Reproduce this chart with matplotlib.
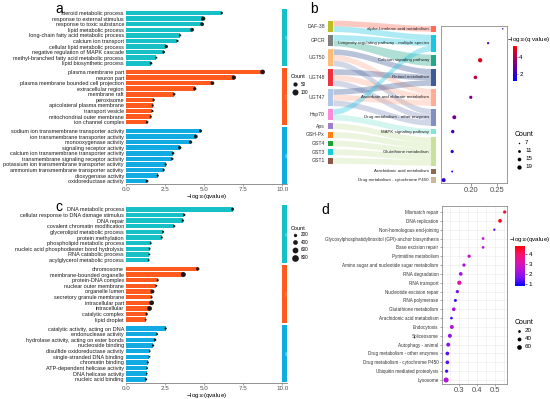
import numpy as np
import matplotlib
matplotlib.use('Agg')
import matplotlib.pyplot as plt
from matplotlib.colors import LinearSegmentedColormap, Normalize
from matplotlib.patches import Rectangle
import matplotlib.cm as cm

plt.rcParams['font.family'] = ['Liberation Sans', 'DejaVu Sans']

W, H = 550, 399

# ---------------- panel a (GO) ----------------
a_bp_terms = ['steroid metabolic process', 'response to external stimulus', 'response to toxic substance',
              'lipid metabolic process', 'long-chain fatty acid metabolic process', 'calcium ion transport',
              'cellular lipid metabolic process', 'negative regulation of MAPK cascade',
              'methyl-branched fatty acid metabolic process', 'lipid biosynthetic process']
a_bp_vals = [6.13, 4.94, 4.87, 4.23, 3.46, 3.29, 2.58, 2.41, 1.94, 1.60]
a_bp_count = [15, 51, 38, 38, 15, 15, 30, 20, 11, 20]
a_cc_terms = ['plasma membrane part', 'neuron part', 'plasma membrane bounded cell projection',
              'extracellular region', 'membrane raft', 'peroxisome', 'apicolateral plasma membrane',
              'transport vesicle', 'mitochondrial outer membrane', 'ion channel complex']
a_cc_vals = [8.74, 6.90, 5.53, 4.40, 3.08, 1.77, 1.71, 1.69, 1.58, 1.35]
a_cc_count = [61, 51, 38, 30, 20, 15, 15, 15, 15, 20]
a_mf_terms = ['sodium ion transmembrane transporter activity', 'ion transmembrane transporter activity',
              'monooxygenase activity', 'signaling receptor activity',
              'calcium ion transmembrane transporter activity', 'transmembrane signaling receptor activity',
              'potassium ion transmembrane transporter activity', 'ammonium transmembrane transporter activity',
              'dioxygenase activity', 'oxidoreductase activity']
a_mf_vals = [4.77, 4.47, 4.13, 3.44, 3.01, 2.95, 2.54, 2.41, 2.03, 1.35]
a_mf_count = [25, 38, 30, 30, 20, 20, 15, 15, 15, 20]

# ---------------- panel c (GO) ----------------
c_bp_terms = ['DNA metabolic process', 'cellular response to DNA damage stimulus', 'DNA repair',
              'covalent chromatin modification', 'glycerolipid metabolic process', 'protein methylation',
              'phospholipid metabolic process', 'nucleic acid phosphodiester bond hydrolysis',
              'RNA catabolic process', 'acylglycerol metabolic process']
c_bp_vals = [6.82, 3.72, 3.63, 3.08, 2.37, 2.29, 1.58, 1.51, 1.49, 1.45]
c_bp_count = [160, 120, 110, 100, 90, 80, 70, 70, 70, 60]
c_cc_terms = ['chromosome', 'membrane-bounded organelle', 'protein-DNA complex', 'nuclear outer membrane',
              'organelle lumen', 'secretory granule membrane', 'intracellular part', 'intracellular',
              'catalytic complex', 'lipid droplet']
c_cc_vals = [4.59, 3.67, 2.03, 1.94, 1.69, 1.64, 1.64, 1.51, 1.32, 1.26]
c_cc_count = [200, 450, 90, 80, 290, 80, 400, 400, 110, 60]
c_mf_terms = ['catalytic activity, acting on DNA', 'endonuclease activity',
              'hydrolase activity, acting on ester bonds', 'nucleoside binding',
              'disulfide oxidoreductase activity', 'single-stranded DNA binding', 'chromatin binding',
              'ATP-dependent helicase activity', 'DNA helicase activity', 'nucleic acid binding']
c_mf_vals = [2.54, 1.99, 1.86, 1.73, 1.52, 1.50, 1.40, 1.35, 1.32, 1.28]
c_mf_count = [90, 80, 120, 100, 60, 60, 80, 60, 60, 110]

go_groups = ['BP', 'CC', 'MF']
go_colors = ['#17BFC6', '#FF5B1E', '#11ABE3']

# ---------------- panel b (sankey + dots) ----------------
genes = ['DAF-38', 'GPCR', 'UGT50', 'UGT48', 'UGT47', 'Hsp70', 'Aps', 'GSH-Px', 'GST4', 'GST3', 'GST1']
gene_units = [2, 2, 3, 3, 3, 2, 1, 1, 1, 1, 1]
gene_colors = ['#BCBD22', '#7F7F7F', '#FFBB78', '#EE3340', '#AEC7E8', '#F98BD8',
               '#A07DCB', '#FF7F0E', '#21A03A', '#1BCCD6', '#8C564B']
paths = ['alpha-Linolenic acid metabolism', 'Longevity regulating pathway - multiple species',
         'Calcium signaling pathway', 'Retinol metabolism', 'Ascorbate and aldarate metabolism',
         'Drug metabolism - other enzymes', 'MAPK signaling pathway', 'Glutathione metabolism',
         'Arachidonic acid metabolism', 'Drug metabolism - cytochrome P450']
path_units = [1, 3, 2, 3, 3, 3, 1, 5, 1, 1]
path_colors = ['#FF6B55', '#1CC6E2', '#23A88C', '#3F5B98', '#FFAE95', '#8290BF',
               '#86E4D6', '#C8E29E', '#8C6A50', '#CDB79A']
links = [(0, 0), (0, 1), (1, 1), (1, 2), (2, 3), (2, 4), (2, 5), (3, 3), (3, 4), (3, 5),
         (4, 3), (4, 4), (4, 5), (5, 1), (5, 6), (6, 7), (7, 7), (8, 7), (9, 7), (10, 7)]
b_ratio = [0.260, 0.2325, 0.2175, 0.2087, 0.200, 0.169, 0.166, 0.165, 0.165, 0.149]
b_q = [2.0, 2.4, 4.9, 4.4, 3.2, 3.0, 2.2, 2.0, 1.3, 1.8]
b_count = [7, 9, 19, 15, 13, 17, 14, 13, 8, 17]

# ---------------- panel d (KEGG dots) ----------------
d_terms = ['Mismatch repair', 'DNA replication', 'Non-homologous end-joining',
           'Glycosylphosphatidylinositol (GPI)-anchor biosynthesis', 'Base excision repair',
           'Pyrimidine metabolism', 'Amino sugar and nucleotide sugar metabolism', 'RNA degradation',
           'RNA transport', 'Nucleotide excision repair', 'RNA polymerase', 'Glutathione metabolism',
           'Arachidonic acid metabolism', 'Endocytosis', 'Spliceosome', 'Autophagy - animal',
           'Drug metabolism - other enzymes', 'Drug metabolism - cytochrome P450',
           'Ubiquitin mediated proteolysis', 'Lysosome']
d_ratio = [0.554, 0.528, 0.496, 0.433, 0.433, 0.355, 0.326, 0.308, 0.300, 0.289,
           0.278, 0.269, 0.256, 0.258, 0.247, 0.238, 0.233, 0.233, 0.229, 0.226]
d_q = [4.3, 4.7, 1.5, 2.5, 2.4, 2.8, 2.3, 2.3, 3.2, 1.6,
       1.2, 2.2, 1.2, 2.5, 2.0, 1.8, 1.4, 1.4, 1.3, 2.4]
d_count = [30, 38, 15, 20, 20, 30, 30, 38, 51, 30, 25, 38, 20, 44, 44, 44, 38, 38, 30, 70]


def px(x0, y0, x1, y1):
    return [x0 / W, 1 - y1 / H, (x1 - x0) / W, (y1 - y0) / H]


def sz(d_px):
    return (np.asarray(d_px) * 0.72) ** 2


fig = plt.figure(figsize=(5.5, 3.99), dpi=100)
ov = fig.add_axes([0, 0, 1, 1])
ov.set_xlim(0, W)
ov.set_ylim(H, 0)
ov.axis('off')
ov.set_zorder(10)
ov.patch.set_alpha(0)

xlab = r'$\mathregular{-log_{10}(qvalue)}$'


def go_panel(rect, terms, vals, counts, k):
    ax = fig.add_axes(rect)
    ax.patch.set_alpha(0)
    off = 10.55
    yt, yl = [], []
    for g in range(3):
        y = g * off + np.arange(len(terms[g]))
        ax.barh(y, vals[g], height=0.8, color=go_colors[g], zorder=2)
        ax.scatter(vals[g], y, s=sz(k * np.sqrt(counts[g])), color='#1a1a1a',
                   linewidths=0, zorder=3, clip_on=False)
        ax.add_patch(Rectangle((10.0, y[0] - 0.68), 0.3, 10.22, color=go_colors[g],
                               clip_on=False, lw=0))
        ax.text(10.15, y[0] + 4.5, go_groups[g], rotation=-90, color='white', alpha=0.6,
                fontsize=3, ha='center', va='center')
        yt += list(y)
        yl += terms[g]
    ax.set_yticks(yt)
    ax.set_yticklabels(yl, fontsize=3.95, color='#1a1a1a')
    ax.tick_params(axis='y', length=0, pad=1.5)
    ax.set_xlim(0, 10.3)
    ax.set_ylim(30.65, -0.75)
    ax.set_xticks([0, 2.5, 5, 7.5, 10])
    ax.set_xticklabels(['0.0', '2.5', '5.0', '7.5', '10.0'], fontsize=4.5, color='#4d4d4d')
    ax.tick_params(axis='x', length=1.5, width=0.4, pad=0.8, color='#666666')
    for s in ['top', 'right', 'left']:
        ax.spines[s].set_visible(False)
    ax.spines['bottom'].set_linewidth(0.5)
    ax.spines['bottom'].set_color('#666666')
    ax.set_xlabel(xlab, fontsize=4.5, labelpad=0)
    return ax


go_panel(px(126, 8.8, 287, 184.3), [a_bp_terms, a_cc_terms, a_mf_terms],
         [a_bp_vals, a_cc_vals, a_mf_vals], [a_bp_count, a_cc_count, a_mf_count], 0.6)
go_panel(px(126, 205.0, 287, 382.5), [c_bp_terms, c_cc_terms, c_mf_terms],
         [c_bp_vals, c_cc_vals, c_mf_vals], [c_bp_count, c_cc_count, c_mf_count], 0.236)

# legends of a and c
ov.text(291, 77, 'Count', fontsize=4, va='center')
for yy, cnt in zip([84, 92], [50, 100]):
    ov.scatter(295, yy, s=sz(0.6 * np.sqrt(cnt)), color='#1a1a1a', linewidths=0)
    ov.text(301, yy, str(cnt), fontsize=3.3, va='center')
ov.text(291, 228, 'Count', fontsize=4, va='center')
for yy, cnt in zip([235, 242.3, 249.7, 257.7], [200, 400, 600, 800]):
    ov.scatter(295, yy, s=sz(0.236 * np.sqrt(cnt)), color='#1a1a1a', linewidths=0)
    ov.text(301, yy, str(cnt), fontsize=3.3, va='center')

# ---------------- sankey ----------------
sk = fig.add_axes(px(280, 0, 441, 190))
sk.set_xlim(280, 441)
sk.set_ylim(190, 0)
sk.axis('off')
unit, pad = 5.65, 3.0


def stack(units, start):
    out, y = [], start
    for u in units:
        out.append((y, y + u * unit))
        y += u * unit + pad
    return out


gpos = stack(gene_units, 20.7)
ppos = stack(path_units, 26.0)
lx0, lx1, rx0, rx1 = 328, 333.5, 431, 436.5

n_out = [sum(1 for s, t in links if s == i) for i in range(len(genes))]
n_in = [sum(1 for s, t in links if t == j) for j in range(len(paths))]
used_out = [0] * len(genes)
used_in = [0] * len(paths)

# source slots in target order, target slots in source order
src_slot = {}
for s, tg in sorted(links, key=lambda l: (l[0], l[1])):
    h = (gpos[s][1] - gpos[s][0]) / n_out[s]
    y0 = gpos[s][0] + used_out[s] * h
    src_slot[(s, tg)] = (y0, y0 + h)
    used_out[s] += 1
tgt_slot = {}
for s, tg in sorted(links, key=lambda l: (l[1], l[0])):
    h = (ppos[tg][1] - ppos[tg][0]) / max(n_in[tg], 1)
    y0 = ppos[tg][0] + used_in[tg] * h
    tgt_slot[(s, tg)] = (y0, y0 + h)
    used_in[tg] += 1

t = np.linspace(0, 1, 60)
smooth = 3 * t ** 2 - 2 * t ** 3
xx = lx1 + (rx0 - lx1) * t
for s, tg in links:
    a0, a1 = src_slot[(s, tg)]
    b0, b1 = tgt_slot[(s, tg)]
    top = a0 + (b0 - a0) * smooth
    bot = a1 + (b1 - a1) * smooth
    sk.fill(np.r_[xx, xx[::-1]], np.r_[top, bot[::-1]], color=path_colors[tg], alpha=0.36, lw=0)

for i, g in enumerate(genes):
    y0, y1 = gpos[i]
    sk.add_patch(Rectangle((lx0, y0), lx1 - lx0, y1 - y0, color=gene_colors[i], lw=0))
    sk.text(lx0 - 3, (y0 + y1) / 2, g, fontsize=3.7, ha='right', va='center', color='#333333')
for j, p in enumerate(paths):
    y0, y1 = ppos[j]
    sk.add_patch(Rectangle((rx0, y0), rx1 - rx0, y1 - y0, color=path_colors[j], lw=0))
    sk.text(rx0 - 2, (y0 + y1) / 2, p, fontsize=3.2, ha='right', va='center', color='#222222')

# dot plot b
cmap_b = LinearSegmentedColormap.from_list('bq', ['#0000FF', '#FF0000'])
norm_b = Normalize(1.1, 5.4)
axb = fig.add_axes(px(441, 25.7, 507, 183))
centers = [(a + b) / 2 for a, b in ppos]
bd = np.sqrt(np.clip(1.354 * np.array(b_count) - 7.23, 1.5, None))
axb.scatter(b_ratio, centers, s=sz(bd), c=b_q, cmap=cmap_b, norm=norm_b, linewidths=0,
            zorder=3, clip_on=False)
axb.set_ylim(183, 25.7)
axb.set_xlim(0.144, 0.268)
axb.set_yticks([])
axb.set_xticks([0.20, 0.25])
axb.set_xticklabels(['0.20', '0.25'], fontsize=5.5, color='#4d4d4d')
axb.tick_params(axis='x', length=2, width=0.5, pad=1, color='#666666')
for sp in axb.spines.values():
    sp.set_color('#8c8c8c')
    sp.set_linewidth(0.6)

cbb = fig.add_axes(px(513, 45.7, 516.5, 81))
cb1 = fig.colorbar(cm.ScalarMappable(norm=norm_b, cmap=cmap_b), cax=cbb)
cb1.outline.set_visible(False)
cb1.set_ticks([2, 4])
cbb.tick_params(labelsize=4.5, length=1, width=0.4, pad=1)
ov.text(507, 39.5, r'$\mathregular{-log_{10}(q\ value)}$', fontsize=4.5, va='center')
ov.text(515, 134, 'Count', fontsize=5, va='center')
for yy, cnt in zip([143, 151, 159, 167], [7, 11, 15, 19]):
    dd = np.sqrt(max(1.354 * cnt - 7.23, 1.5))
    ov.scatter(519, yy, s=sz(dd), color='black', linewidths=0)
    ov.text(525, yy, str(cnt), fontsize=4.5, va='center')

# ---------------- panel d ----------------
cmap_d = LinearSegmentedColormap.from_list('dq', ['#0000FF', '#7A12F2', '#B512DA', '#E013A8',
                                                  '#F8106A', '#FF0000'])
norm_d = Normalize(0.8, 4.85)
axd = fig.add_axes(px(442, 206, 507, 384))
yd = np.arange(len(d_terms))
axd.scatter(d_ratio, yd, s=sz(0.6 * np.sqrt(d_count)), c=d_q, cmap=cmap_d, norm=norm_d,
            linewidths=0, zorder=3, clip_on=False)
axd.set_ylim(19.45, -0.68)
axd.set_xlim(0.203, 0.567)
axd.set_yticks(yd)
axd.set_yticklabels(d_terms, fontsize=3.3, color='#333333')
axd.set_xticks([0.3, 0.4, 0.5])
axd.set_xticklabels(['0.3', '0.4', '0.5'], fontsize=5.5, color='#4d4d4d')
axd.set_xticks([0.25, 0.35, 0.45, 0.55], minor=True)
axd.tick_params(axis='both', which='major', length=1.5, width=0.4, pad=1, color='#666666')
axd.tick_params(axis='x', which='minor', length=0)
axd.grid(True, which='both', color='#ebebeb', lw=0.4, zorder=0)
axd.set_axisbelow(True)
for sp in axd.spines.values():
    sp.set_color('#8c8c8c')
    sp.set_linewidth(0.6)

cbd = fig.add_axes(px(515, 246, 525, 286))
cb2 = fig.colorbar(cm.ScalarMappable(norm=norm_d, cmap=cmap_d), cax=cbd)
cb2.outline.set_visible(False)
cb2.set_ticks([1, 2, 3, 4])
cbd.tick_params(labelsize=4.5, length=1.5, width=0.4, pad=1)
ov.text(509, 240, r'$\mathregular{-log_{10}(qvalue)}$', fontsize=4.5, va='center')
ov.text(515, 322, 'Count', fontsize=5, va='center')
for yy, cnt in zip([331, 339, 347], [20, 40, 60]):
    ov.scatter(519, yy, s=sz(0.6 * np.sqrt(cnt)), color='black', linewidths=0)
    ov.text(525, yy, str(cnt), fontsize=4.5, va='center')

# panel letters
for lx, ly, lt in [(55, 9, 'a'), (310, 9, 'b'), (55, 207, 'c'), (321, 210, 'd')]:
    ov.text(lx, ly, lt, fontsize=10, ha='left', va='center')

fig.savefig('out.png', dpi=100)
